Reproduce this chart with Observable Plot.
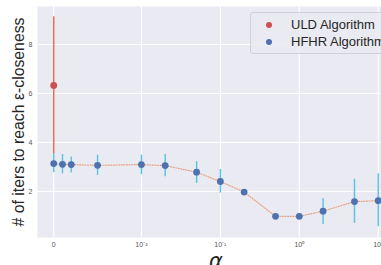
<!DOCTYPE html>
<html><head><meta charset="utf-8">
<script src="https://cdn.jsdelivr.net/npm/d3@7"></script>
<script src="https://cdn.jsdelivr.net/npm/@observablehq/plot@0.6"></script>
<style>
html,body{margin:0;padding:0;overflow:hidden;background:#fff;width:381px;height:265px;}
#wrap{position:relative;width:400px;height:265px;}
#legend{position:absolute;left:250px;top:12px;width:150px;height:40px;background:rgba(234,234,242,0.85);border:1px solid #cfcfd6;border-radius:3px;font-family:"Liberation Sans",Arial,sans-serif;font-size:13px;color:#262626;}
.li{position:absolute;left:0;height:16px;line-height:16px;}
.dot{position:absolute;left:15px;top:5px;width:6px;height:6px;border-radius:50%;}
.lt{position:absolute;left:40px;top:0;white-space:nowrap;}
</style></head>
<body><div id="wrap"><div id="chart"></div>
<div id="legend">
<div class="li" style="top:4px"><span class="dot" style="background:#cf4f4f"></span><span class="lt">ULD Algorithm</span></div>
<div class="li" style="top:21px"><span class="dot" style="background:#4c72b0"></span><span class="lt">HFHR Algorithm</span></div>
</div></div>
<script>
// data
const alphas = [0, 0.001, 0.002, 0.005, 0.01, 0.02, 0.05, 0.1, 0.2, 0.5, 1, 2, 5, 10];
const hfhrMean = [3.14, 3.11, 3.10, 3.07, 3.10, 3.06, 2.79, 2.41, 1.98, 0.99, 0.99, 1.20, 1.59, 1.63];
const hfhrLow  = [2.77, 2.72, 2.76, 2.66, 2.69, 2.60, 2.33, 1.94, 1.96, 0.97, 0.97, 0.66, 0.70, 0.56];
const hfhrHigh = [3.55, 3.51, 3.41, 3.48, 3.49, 3.51, 3.22, 2.90, 2.00, 1.01, 1.01, 1.71, 2.50, 2.73];
const uldAlpha = [0];
const uldMean = [6.33];
const uldLow = [3.55];
const uldHigh = [9.13];
const xTickValues = [0, 0.01, 0.1, 1, 10];
const xTickLabels = ["0", "10\u207B\u00B2", "10\u207B\u00B9", "10\u2070", "10\u00B9"];
const yTickValues = [2, 4, 6, 8];

// symlog (matplotlib-style, linthresh 0.01, linscale 1)
const linthresh = 0.01, linscaleAdj = 1 / (1 - 1 / 10);
const sym = a => Math.abs(a) <= linthresh ? a / linthresh * linscaleAdj
  : Math.sign(a) * (linscaleAdj + Math.log10(Math.abs(a) / linthresh));

const hfhr = alphas.map((a, i) => ({x: sym(a), y: hfhrMean[i], lo: hfhrLow[i], hi: hfhrHigh[i]}));
const uld = uldAlpha.map((a, i) => ({x: sym(a), y: uldMean[i], lo: uldLow[i], hi: uldHigh[i]}));
const xt = xTickValues.map(sym);
const labelOf = new Map(xt.map((v, i) => [v, xTickLabels[i]]));

const chart = Plot.plot({
  width: 400, height: 265,
  marginLeft: 37, marginRight: 6, marginTop: 6, marginBottom: 28,
  style: {fontFamily: "'Liberation Sans', Arial, sans-serif", background: "#fff"},
  x: {domain: [-0.2056, 4.317]},
  y: {domain: [0.126, 9.55]},
  marks: [
    Plot.frame({fill: "#eaeaf2", stroke: null}),
    Plot.gridX(xt, {stroke: "#fff", strokeOpacity: 1, strokeWidth: 1.1}),
    Plot.gridY(yTickValues, {stroke: "#fff", strokeOpacity: 1, strokeWidth: 1.1}),
    Plot.axisX(xt, {tickSize: 0, tickPadding: 5, fontSize: 7, fill: "#555", tickFormat: v => labelOf.get(v), label: null}),
    Plot.axisY(yTickValues, {tickSize: 0, tickPadding: 5, fontSize: 7, fill: "#555", label: null}),
    Plot.line(hfhr, {x: "x", y: "y", stroke: "#e8946a", strokeWidth: 1.2, strokeDasharray: "1,1.6", strokeOpacity: 0.85}),
    Plot.ruleX(uld, {x: "x", y1: "lo", y2: "hi", stroke: "#ee6b50", strokeWidth: 1.5}),
    Plot.ruleX(hfhr, {x: "x", y1: "lo", y2: "hi", stroke: "#5ec4e6", strokeWidth: 1.5}),
    Plot.dot(uld, {x: "x", y: "y", r: 3.4, fill: "#cf4f4f", stroke: null}),
    Plot.dot(hfhr, {x: "x", y: "y", r: 3.4, fill: "#4c72b0", stroke: null}),
    Plot.text(["# of iters to reach \u03B5-closeness"], {frameAnchor: "left", textAnchor: "middle", rotate: -90, dx: -19, fontSize: 15.8, fill: "#262626"}),
    Plot.text(["\u03B1"], {frameAnchor: "bottom", textAnchor: "middle", dy: 30, fontSize: 21, fontStyle: "italic", fill: "#262626", fontFamily: "'DejaVu Sans', sans-serif"})
  ]
});
document.getElementById("chart").appendChild(chart);
</script></body></html>
